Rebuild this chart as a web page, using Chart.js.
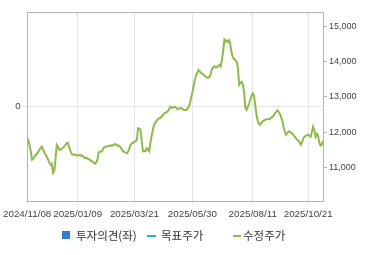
<!DOCTYPE html>
<html>
<head>
<meta charset="utf-8">
<script src="https://cdn.jsdelivr.net/npm/chart.js@4.4.1/dist/chart.umd.min.js"></script>
<style>
  html, body { margin: 0; padding: 0; background: #fff; }
  #wrap { position: relative; width: 370px; height: 255px; overflow: hidden; }
  #c { position: absolute; left: 0; top: 0; }
  .lg { position: absolute; font-family: "Noto Sans CJK KR", "Noto Sans", sans-serif; font-size: 11.5px; line-height: 12px; color: #333; white-space: nowrap; }
  .sw { position: absolute; }
</style>
</head>
<body>
<div id="wrap">
  <canvas id="c" width="370" height="255"></canvas>
  <div class="sw" style="left:62px;top:231px;width:8px;height:8px;background:#2f7ed8;"></div>
  <div class="lg" style="left:76px;top:229px;">투자의견(좌)</div>
  <div class="sw" style="left:147px;top:234.5px;width:9px;height:2px;background:#22b4c6;"></div>
  <div class="lg" style="left:161px;top:229px;">목표주가</div>
  <div class="sw" style="left:233px;top:234.5px;width:8px;height:2px;background:#8dba4c;"></div>
  <div class="lg" style="left:243px;top:229px;">수정주가</div>
</div>
<script>
// ---- data ----
const tickIndex = [0, 41, 87, 134, 183, 228];
const tickLabels = ["2024/11/08", "2025/01/09", "2025/03/21", "2025/05/30", "2025/08/11", "2025/10/21"];
const priceTicks = [11000, 12000, 13000, 14000, 15000];
const opinion = [];      // 투자의견(좌) - no values shown
const targetPrice = [];  // 목표주가 - no values shown
const adjPrice = [
  11830, 11750, 11610, 11440, 11215, 11245, 11300, 11360, 11385, 11440,
  11500, 11555, 11585, 11500, 11415, 11355, 11300, 11215, 11130, 11075,
  11100, 10845, 10900, 11215, 11640, 11585, 11500, 11500, 11530, 11555,
  11585, 11640, 11680, 11695, 11585, 11470, 11385, 11355, 11370, 11355,
  11340, 11330, 11355, 11330, 11345, 11315, 11300, 11258, 11270, 11245,
  11230, 11215, 11175, 11160, 11130, 11100, 11130, 11215, 11430, 11440,
  11440, 11470, 11555, 11570, 11585, 11600, 11600, 11612, 11625, 11612,
  11640, 11655, 11655, 11612, 11625, 11600, 11555, 11500, 11455, 11430,
  11415, 11400, 11455, 11555, 11640, 11680, 11697, 11725, 11740, 11782,
  12105, 12095, 12050, 11725, 11455, 11470, 11455, 11540, 11500, 11455,
  11697, 11895, 12065, 12207, 12263, 12320, 12363, 12390, 12405, 12433,
  12475, 12518, 12547, 12560, 12590, 12632, 12717, 12689, 12689, 12703,
  12717, 12689, 12646, 12660, 12675, 12680, 12646, 12632, 12618, 12632,
  12660, 12717, 12802, 12972, 13113, 13283, 13482, 13595, 13680, 13765,
  13722, 13680, 13652, 13623, 13595, 13567, 13538, 13538, 13567, 13652,
  13793, 13836, 13864, 13836, 13836, 13878, 13907, 13864, 14048, 14303,
  14615, 14558, 14600, 14558, 14600, 14445, 14218, 14105, 14077, 14034,
  13992, 13822, 13340, 13397, 13425, 13340, 13142, 12688, 12632, 12717,
  12802, 12915, 13028, 13100, 13028, 12773, 12490, 12320, 12235, 12207,
  12263, 12305, 12320, 12348, 12363, 12363, 12363, 12377, 12405, 12433,
  12475, 12533, 12575, 12618, 12575, 12518, 12433, 12320, 12150, 12008,
  11924, 11966, 12017, 12008, 11980, 11966, 11924, 11867, 11825, 11782,
  11754, 11711, 11640, 11725, 11810, 11867, 11895, 11910, 11924, 11895,
  11867, 12008, 12150, 12037, 11867, 11952, 11895, 11697, 11612, 11640,
  11754
];

const GRID = '#e6e6e6';
const BORDER = '#b4b4b4';
const TICKTXT = '#444';
const FONT = '"Liberation Sans", Arial, sans-serif';

const framePlugin = {
  id: 'frame',
  afterDraw(chart) {
    const a = chart.chartArea, ctx = chart.ctx;
    ctx.save();
    ctx.strokeStyle = BORDER;
    ctx.lineWidth = 1;
    ctx.beginPath();
    ctx.moveTo(a.left, a.top + 0.5);
    ctx.lineTo(a.right, a.top + 0.5);
    ctx.stroke();
    ctx.restore();
  }
};

new Chart(document.getElementById('c'), {
  data: {
    datasets: [
      { type: 'bar', label: '투자의견(좌)', data: opinion, yAxisID: 'y', xAxisID: 'x', backgroundColor: '#2f7ed8' },
      { type: 'line', label: '목표주가', data: targetPrice, yAxisID: 'y2', xAxisID: 'x', borderColor: '#22b4c6', borderWidth: 2, pointRadius: 0 },
      { type: 'line', label: '수정주가', data: adjPrice.map((v, i) => ({ x: i, y: v })), yAxisID: 'y2', xAxisID: 'x',
        borderColor: '#8dba4c', borderWidth: 2, pointRadius: 0, tension: 0, fill: false }
    ]
  },
  options: {
    responsive: false,
    animation: false,
    events: [],
    layout: { padding: { top: 12, left: 0, right: 0, bottom: 33 } },
    plugins: { legend: { display: false }, tooltip: { enabled: false } },
    scales: {
      x: {
        type: 'linear', min: 0, max: adjPrice.length - 1, offset: false,
        afterBuildTicks: s => { s.ticks = tickIndex.map(v => ({ value: v })); },
        afterFit: s => { s.height = 21; },
        grid: { color: GRID, drawTicks: true, tickLength: 4, tickColor: GRID, offset: false },
        border: { color: BORDER },
        ticks: {
          autoSkip: false, maxRotation: 0, padding: 3, color: TICKTXT,
          font: { family: FONT, size: 9.8 },
          callback: v => { const k = tickIndex.indexOf(v); return k >= 0 ? tickLabels[k] : ''; }
        }
      },
      y: {
        position: 'left', min: -1, max: 1,
        afterBuildTicks: s => { s.ticks = [{ value: 0 }]; },
        afterFit: s => { s.width = 26; },
        grid: { color: GRID, drawTicks: true, tickLength: 5, tickColor: GRID },
        border: { color: BORDER },
        ticks: { padding: 1.5, color: TICKTXT, font: { family: FONT, size: 9.8 }, callback: v => String(v) }
      },
      y2: {
        position: 'right', min: 10045, max: 15405,
        afterBuildTicks: s => { s.ticks = priceTicks.map(v => ({ value: v })); },
        afterFit: s => { s.width = 47; },
        grid: { drawOnChartArea: false, drawTicks: true, tickLength: 4, tickColor: BORDER },
        border: { color: BORDER },
        ticks: { padding: 2, color: TICKTXT, font: { family: FONT, size: 9 }, callback: v => v.toLocaleString('en-US') }
      }
    }
  },
  plugins: [framePlugin]
});
</script>
</body>
</html>
